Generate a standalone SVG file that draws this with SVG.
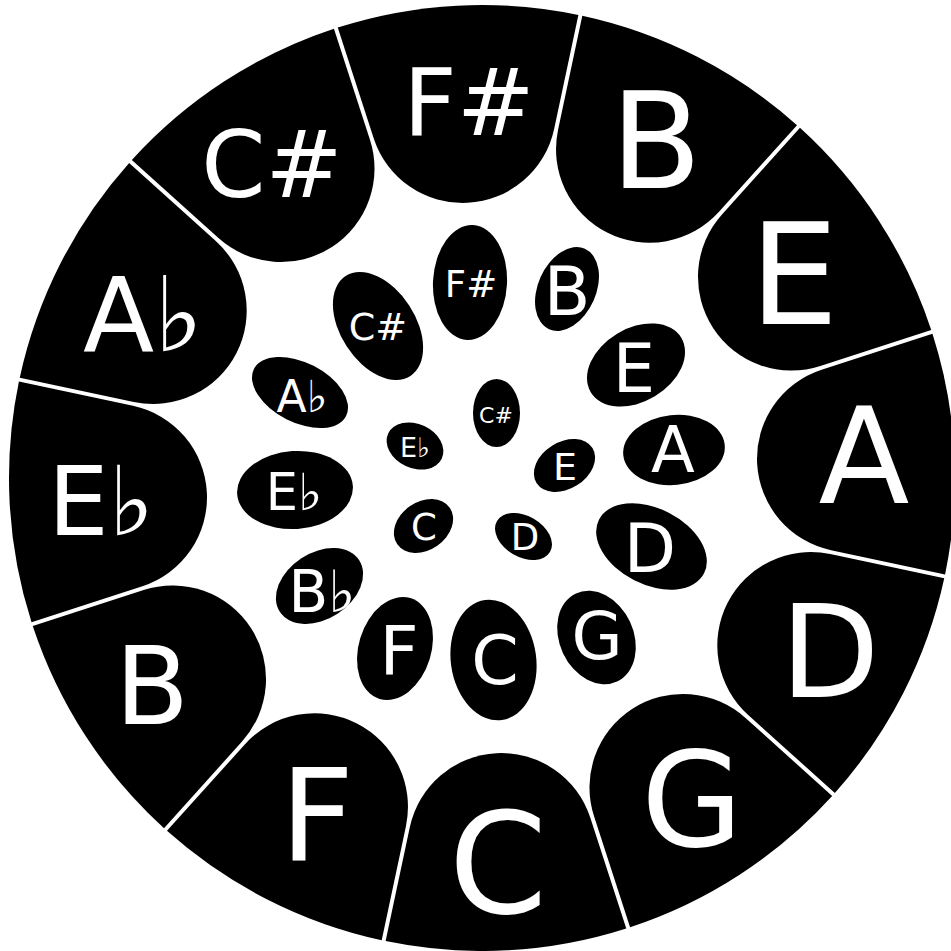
<svg xmlns="http://www.w3.org/2000/svg" width="951" height="951" viewBox="0 0 951 951">
<style>
.seg{fill:#000}
.ov{fill:#000}
text{font-family:"DejaVu Sans","Liberation Sans",sans-serif;fill:#fff;text-anchor:middle}
</style>
<defs>
<path id="segshape" d="M-120.49,-457.4 A473,473 0 0 1 120.49,-457.4 L90.31,-344.8 A93.5,93.5 0 0 1 -90.31,-344.8 Z"/>
</defs>
<rect width="951" height="951" fill="#fff"/>
<g id="outer-ring">
<g id="outer-Fsharp"><use href="#segshape" class="seg" transform="translate(482 478) rotate(-3)"/><text x="469" y="135" font-size="93">F#</text></g>
<g id="outer-B"><use href="#segshape" class="seg" transform="translate(482 478) rotate(27)"/><text x="656" y="188" font-size="133">B</text></g>
<g id="outer-E"><use href="#segshape" class="seg" transform="translate(482 478) rotate(57)"/><text x="794" y="324" font-size="141">E</text></g>
<g id="outer-A"><use href="#segshape" class="seg" transform="translate(482 478) rotate(87)"/><text x="864" y="503" font-size="133">A</text></g>
<g id="outer-D"><use href="#segshape" class="seg" transform="translate(482 478) rotate(117)"/><text x="830" y="697" font-size="129">D</text></g>
<g id="outer-G"><use href="#segshape" class="seg" transform="translate(482 478) rotate(147)"/><text x="692" y="846" font-size="131">G</text></g>
<g id="outer-C"><use href="#segshape" class="seg" transform="translate(482 478) rotate(177)"/><text x="498" y="913" font-size="141">C</text></g>
<g id="outer-F"><use href="#segshape" class="seg" transform="translate(482 478) rotate(207)"/><text x="317" y="861" font-size="129">F</text></g>
<g id="outer-B2"><use href="#segshape" class="seg" transform="translate(482 478) rotate(237)"/><text x="152" y="724" font-size="108">B</text></g>
<g id="outer-Eflat"><use href="#segshape" class="seg" transform="translate(482 478) rotate(267)"/><text x="101" y="535" font-size="96">E♭</text></g>
<g id="outer-Aflat"><use href="#segshape" class="seg" transform="translate(482 478) rotate(297)"/><text x="143" y="351" font-size="104">A♭</text></g>
<g id="outer-Csharp"><use href="#segshape" class="seg" transform="translate(482 478) rotate(327)"/><text x="272" y="197" font-size="92">C#</text></g>
</g>
<g id="middle-ring">
<g id="mid-Fsharp"><ellipse class="ov" cx="0" cy="0" rx="37" ry="57.5" transform="translate(470 282.5) rotate(3)"/><text x="471" y="297" font-size="37">F#</text></g>
<g id="mid-B"><ellipse class="ov" cx="0" cy="0" rx="29" ry="44" transform="translate(567 289) rotate(24)"/><text x="567" y="315" font-size="68">B</text></g>
<g id="mid-E"><ellipse class="ov" cx="0" cy="0" rx="52.8" ry="36.6" transform="translate(636 365) rotate(-31)"/><text x="634" y="392" font-size="67">E</text></g>
<g id="mid-A"><ellipse class="ov" cx="0" cy="0" rx="51" ry="35" transform="translate(674 450) rotate(-6)"/><text x="673" y="472" font-size="64">A</text></g>
<g id="mid-D"><ellipse class="ov" cx="0" cy="0" rx="59" ry="38" transform="translate(651.5 546.5) rotate(27)"/><text x="650" y="572" font-size="68">D</text></g>
<g id="mid-G"><ellipse class="ov" cx="0" cy="0" rx="37" ry="48.6" transform="translate(596.5 637.5) rotate(-25)"/><text x="597" y="659" font-size="66">G</text></g>
<g id="mid-C"><ellipse class="ov" cx="0" cy="0" rx="42.7" ry="60.6" transform="translate(493.5 660) rotate(-8)"/><text x="495" y="684" font-size="68">C</text></g>
<g id="mid-F"><ellipse class="ov" cx="0" cy="0" rx="36.3" ry="52.7" transform="translate(395 648.5) rotate(17)"/><text x="399" y="675" font-size="68">F</text></g>
<g id="mid-Bflat"><ellipse class="ov" cx="0" cy="0" rx="47.3" ry="33.2" transform="translate(319.5 586) rotate(-33)"/><text x="322" y="612" font-size="58">B♭</text></g>
<g id="mid-Eflat"><ellipse class="ov" cx="0" cy="0" rx="58" ry="39" transform="translate(295 490) rotate(-4)"/><text x="294" y="510" font-size="51">E♭</text></g>
<g id="mid-Aflat"><ellipse class="ov" cx="0" cy="0" rx="51.7" ry="29.9" transform="translate(300 392.5) rotate(27)"/><text x="302" y="412" font-size="44">A♭</text></g>
<g id="mid-Csharp"><ellipse class="ov" cx="0" cy="0" rx="37.4" ry="59.5" transform="translate(378 326) rotate(-33)"/><text x="378" y="340" font-size="38">C#</text></g>
</g>
<g id="inner-ring">
<g id="in-Csharp"><ellipse class="ov" cx="0" cy="0" rx="23.5" ry="34" transform="translate(496.5 413)"/><text x="496" y="423" font-size="22">C#</text></g>
<g id="in-E"><ellipse class="ov" cx="0" cy="0" rx="33" ry="23.4" transform="translate(564.5 465.5) rotate(-32)"/><text x="565" y="480" font-size="38">E</text></g>
<g id="in-D"><ellipse class="ov" cx="0" cy="0" rx="30.7" ry="20.5" transform="translate(523.5 536.5) rotate(30)"/><text x="525" y="550" font-size="37">D</text></g>
<g id="in-C"><ellipse class="ov" cx="0" cy="0" rx="32" ry="24" transform="translate(423.5 526) rotate(-35)"/><text x="424" y="540" font-size="37">C</text></g>
<g id="in-Eflat"><ellipse class="ov" cx="0" cy="0" rx="29.6" ry="22" transform="translate(415 446) rotate(25)"/><text x="415" y="457" font-size="27">E♭</text></g>
</g>
</svg>
